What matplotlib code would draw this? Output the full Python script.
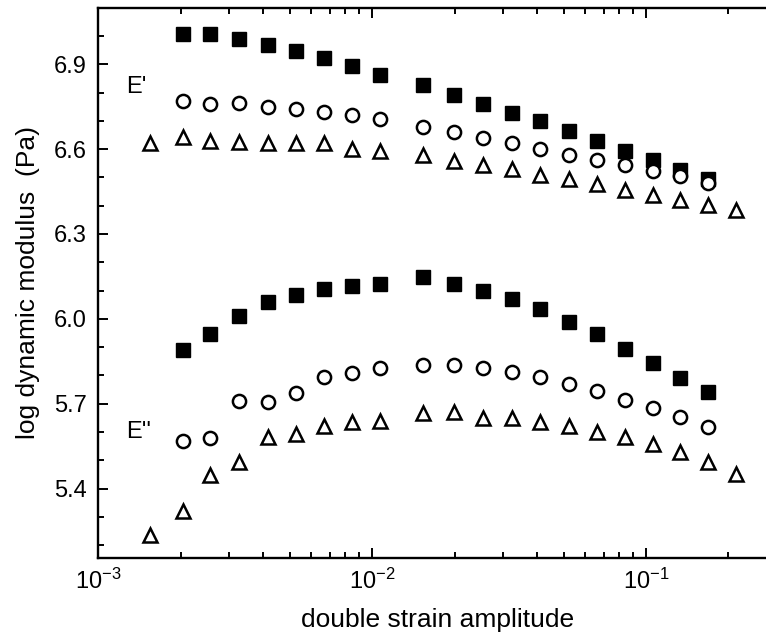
import numpy as np
import matplotlib
matplotlib.use("Agg")
import matplotlib.pyplot as plt
from matplotlib.ticker import MultipleLocator, FormatStrFormatter, LogLocator

plt.rcParams['font.family'] = ['Liberation Sans', 'DejaVu Sans']
plt.rcParams['mathtext.default'] = 'regular'

# strain amplitudes
strain = [0.00204, 0.00256, 0.00328, 0.00416, 0.00528, 0.00670, 0.00848, 0.0107,
          0.01535, 0.0199, 0.0254, 0.0324, 0.0412, 0.0524, 0.0663, 0.0838,
          0.106, 0.1336, 0.1688]
strain_tri = [0.00155] + strain + [0.2131]

# E' (storage)
e1_sq = [7.006, 7.006, 6.989, 6.968, 6.946, 6.921, 6.893, 6.862, 6.826, 6.791,
         6.761, 6.729, 6.699, 6.664, 6.628, 6.595, 6.562, 6.526, 6.495]
e1_ci = [6.770, 6.758, 6.762, 6.750, 6.741, 6.731, 6.719, 6.705, 6.678, 6.660,
         6.640, 6.620, 6.602, 6.580, 6.560, 6.543, 6.523, 6.504, 6.481]
e1_tr = [6.623, 6.642, 6.628, 6.625, 6.623, 6.623, 6.623, 6.602, 6.593, 6.578,
         6.559, 6.543, 6.528, 6.510, 6.493, 6.475, 6.456, 6.438, 6.420, 6.402, 6.385]

# E'' (loss)
e2_sq = [5.890, 5.947, 6.009, 6.059, 6.085, 6.105, 6.115, 6.123, 6.149, 6.124,
         6.100, 6.070, 6.034, 5.990, 5.946, 5.893, 5.843, 5.790, 5.741]
e2_ci = [5.569, 5.580, 5.711, 5.706, 5.739, 5.796, 5.810, 5.826, 5.836, 5.835,
         5.826, 5.813, 5.795, 5.768, 5.745, 5.713, 5.686, 5.654, 5.617]
e2_tr = [5.235, 5.322, 5.448, 5.495, 5.583, 5.592, 5.621, 5.635, 5.639, 5.666,
         5.670, 5.649, 5.650, 5.635, 5.621, 5.601, 5.583, 5.556, 5.530, 5.495, 5.451]

fig = plt.figure(figsize=(7.66, 6.39), dpi=100)
ax = fig.add_axes([0.128, 0.127, 0.886, 0.861])

sq = dict(marker='s', ms=10.5, color='black', ls='none')
ci = dict(marker='o', ms=9.5, mfc='white', mec='black', mew=1.8, ls='none')
tr = dict(marker='^', ms=10.5, mfc='white', mec='black', mew=1.8, ls='none')

ax.plot(strain, e1_sq, **sq)
ax.plot(strain, e1_ci, **ci)
ax.plot(strain_tri, e1_tr, **tr)
ax.plot(strain, e2_sq, **sq)
ax.plot(strain, e2_ci, **ci)
ax.plot(strain_tri, e2_tr, **tr)

ax.text(0.00127, 6.818, "E'", fontsize=17, va='center', ha='left')
ax.text(0.00127, 5.600, "E''", fontsize=17, va='center', ha='left')

ax.set_xscale('log')
ax.set_xlim(1e-3, 0.3)
ax.set_ylim(5.155, 7.1)
ax.xaxis.set_major_locator(LogLocator(base=10))
ax.xaxis.set_minor_locator(LogLocator(base=10, subs=np.arange(2, 10)))
ax.yaxis.set_major_locator(MultipleLocator(0.3))
ax.yaxis.set_minor_locator(MultipleLocator(0.1))
ax.yaxis.set_major_formatter(FormatStrFormatter('%.1f'))

ax.tick_params(which='both', direction='in', top=True, right=True, width=1.4)
ax.tick_params(which='major', length=7.5, labelsize=17, pad=8)
ax.tick_params(which='minor', length=4)
for s in ax.spines.values():
    s.set_linewidth(1.7)

ax.set_xlabel('double strain amplitude', fontsize=19, labelpad=10)
ax.set_ylabel('log dynamic modulus  (Pa)', fontsize=19, labelpad=10)

fig.savefig('out.png', dpi=100)
